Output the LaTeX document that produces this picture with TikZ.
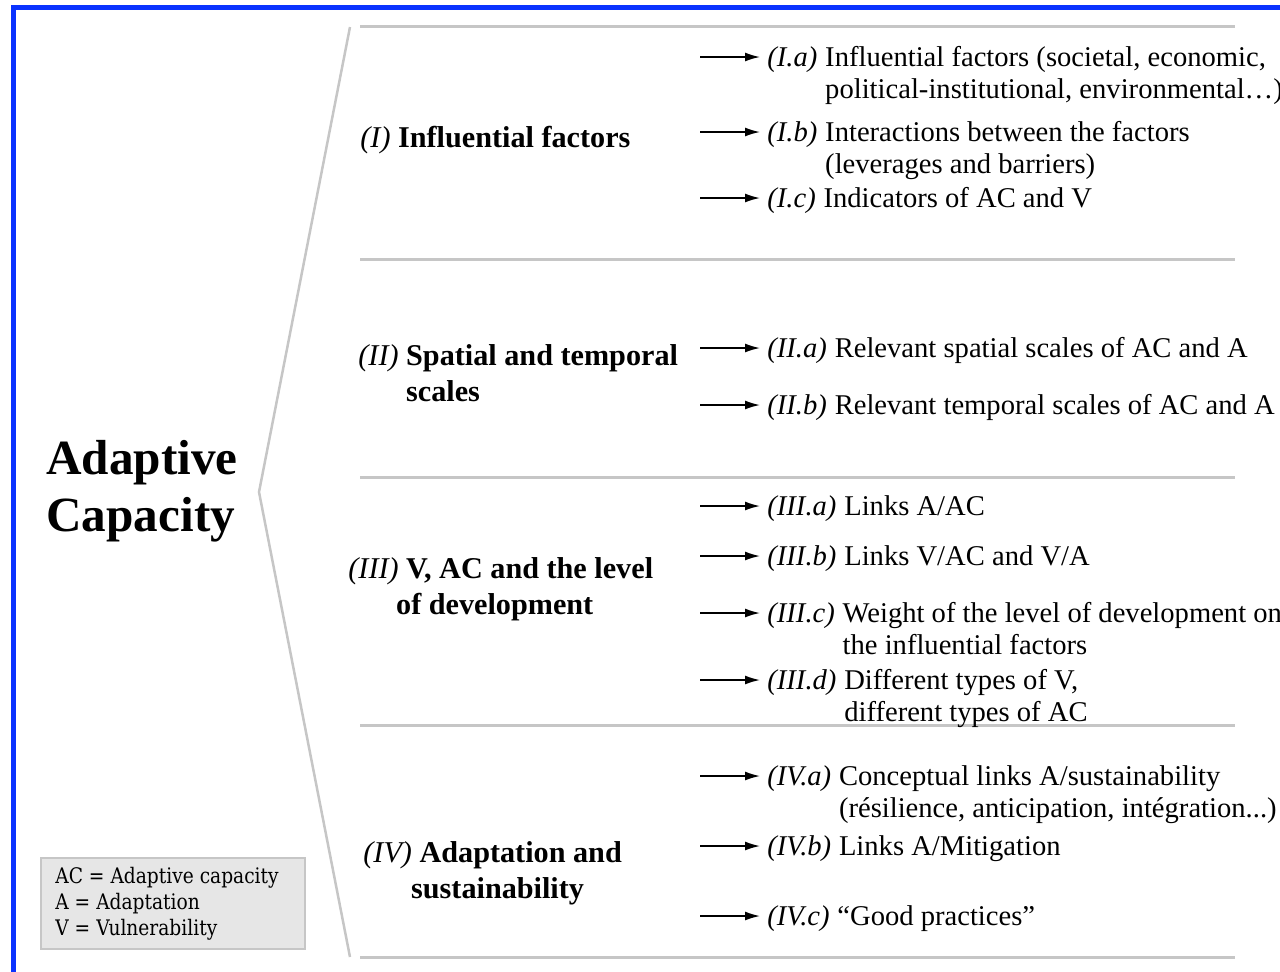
\documentclass[tikz,border=0pt]{standalone}
\usepackage{fontspec}
\setmainfont{Liberation Serif}
\newfontfamily\keyfont{DejaVu Serif}[FakeStretch=0.87]
\usetikzlibrary{arrows.meta}
\definecolor{frameblue}{RGB}{10,50,255}
\definecolor{rulegray}{RGB}{198,198,198}
\definecolor{keyfill}{RGB}{230,230,230}

\begin{document}
\begin{tikzpicture}[x=0.5pt, y=-0.5pt,
    tag/.style={anchor=base west, inner xsep=3.5pt, inner ysep=0pt, text height=11pt, text depth=2pt, font=\fontsize{14.3}{16}\selectfont\itshape},
    txt/.style={anchor=base west, inner sep=0pt, font=\fontsize{14.3}{16}\selectfont},
    sec/.style={anchor=base west, inner sep=0pt, font=\fontsize{15.1}{18}\selectfont},
    ttl/.style={anchor=base west, inner sep=0pt, font=\fontsize{24.6}{28}\selectfont\bfseries},
    keytxt/.style={anchor=base west, inner sep=0pt, font=\keyfont\fontsize{10.7}{13}\selectfont},
    rule/.style={draw=rulegray, line width=1.5pt},
    arr/.style={-{Latex[length=7.5pt, width=4.5pt]}, line width=0.8pt}]
    \useasboundingbox (0,0) rectangle (1280,971);

    \draw[frameblue, line width=2.5pt] (13.5,990) -- (13.5,7.5) -- (1300,7.5);

    \draw[rulegray, line width=1.25pt] (350,27) -- (259,492) -- (350,957);
    \foreach \y in {26, 259, 477, 725, 957}
      {
        \draw[rule] (360,\y) -- (1235,\y);
      }

    \node[ttl] (ac1) at (46,474) {Adaptive};
    \node[ttl] (ac2) at (46,531) {Capacity};

    \node[sec] (s1) at (360,147) {\textit{(I)} \textbf{Influential factors}};
    \node[sec] (s2) at (358,365) {\textit{(II)} \textbf{Spatial and temporal}};
    \node[sec] (s2-2) at ([yshift=-18pt]s2.base west) {\phantom{\textit{(II)} }\textbf{scales}};
    \node[sec] (s3) at (348,578) {\textit{(III)} \textbf{V, AC and the level}};
    \node[sec] (s3-2) at ([yshift=-18pt]s3.base west) {\phantom{\textit{(II)} }\textbf{of development}};
    \node[sec] (s4) at (363,862) {\textit{(IV)} \textbf{Adaptation and}};
    \node[sec] (s4-2) at ([yshift=-18pt]s4.base west) {\phantom{\textit{(II)} }\textbf{sustainability}};

    \foreach \id/\y/\lab/\body in {ia/66/I.a/{Influential factors (societal, economic,},
        ib/141/I.b/{Interactions between the factors},
        ic/207/I.c/{Indicators of AC and V},
        iia/357/II.a/{Relevant spatial scales of AC and A},
        iib/414/II.b/{Relevant temporal scales of AC and A},
        iiia/515/III.a/{Links A/AC},
        iiib/565/III.b/{Links V/AC and V/A},
        iiic/622/III.c/{Weight of the level of development on},
        iiid/689/III.d/{Different types of V,},
        iva/785/IV.a/{Conceptual links A/sustainability},
        ivb/855/IV.b/{Links A/Mitigation},
        ivc/925/IV.c/{“Good practices”}}
      {
        \node[tag] (\id) at (760,\y) {(\lab)};
        \node[txt] (\id-t) at (\id.base east) {\body};
        \coordinate (\id-s) at ([xshift=-30pt]\id.west);
        \draw[arr] (\id-s) -- (\id);
      }

    \node[txt] (ia-2) at ([yshift=-16pt]ia-t.base west) {political-institutional, environmental…)};
    \node[txt] (ib-2) at ([yshift=-16pt]ib-t.base west) {(leverages and barriers)};
    \node[txt] (iiic-2) at ([yshift=-16pt]iiic-t.base west) {the influential factors};
    \node[txt] (iiid-2) at ([yshift=-16pt]iiid-t.base west) {different types of AC};
    \node[txt] (iva-2) at ([yshift=-16pt]iva-t.base west) {(résilience, anticipation, intégration...)};

    \node[draw=rulegray, fill=keyfill, line width=0.75pt, anchor=north west, minimum width=132pt, minimum height=45.5pt] (key) at (40,857) {};
    \node[keytxt] (k1) at (55,883) {AC = Adaptive capacity};
    \node[keytxt] (k2) at (55,909) {A = Adaptation};
    \node[keytxt] (k3) at (55,935) {V = Vulnerability};
  \end{tikzpicture}
\end{document}
